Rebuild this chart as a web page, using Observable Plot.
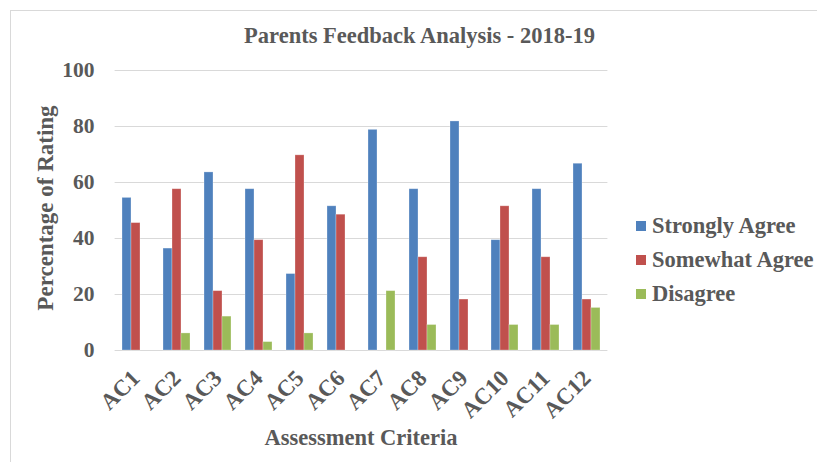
<!DOCTYPE html>
<html>
<head>
<meta charset="utf-8">
<script src="https://cdn.jsdelivr.net/npm/d3@7"></script>
<script src="https://cdn.jsdelivr.net/npm/@observablehq/plot@0.6"></script>
<style>
  html, body { margin: 0; padding: 0; background: #fff; }
  #wrap { position: relative; width: 817px; height: 462px; overflow: hidden;
          font-family: "Liberation Serif", "Times New Roman", serif; font-weight: bold; color: #595959; }
  #border { position: absolute; left: 10px; top: 10px; width: 820px; height: 470px; border: 1px solid #d9d9d9; box-sizing: border-box; }
  #title { position: absolute; left: 0; top: 23px; width: 100%; padding-left: 22px; box-sizing: border-box; text-align: center; font-size: 22.5px; }
  #ylab { position: absolute; left: 46px; top: 208px; transform: translate(-50%, -50%) rotate(-90deg); white-space: nowrap; font-size: 23px; }
  #xlab { position: absolute; left: 361px; top: 438px; transform: translate(-50%, -50%); white-space: nowrap; font-size: 22.5px; }
  #legend { position: absolute; left: 636px; top: 209px; font-size: 22.5px; }
  .li { height: 34px; line-height: 28px; white-space: nowrap; display: flex; align-items: center; }
  .sw { width: 10px; height: 10px; display: inline-block; margin-right: 6px; }
  svg { position: absolute; left: 0; top: 0; }
  g[aria-label="fx-axis tick label"] text { font-size: 23px; }
</style>
</head>
<body>
<div id="wrap">
  <div id="border"></div>
</div>
<script>
const categories = ["AC1","AC2","AC3","AC4","AC5","AC6","AC7","AC8","AC9","AC10","AC11","AC12"];
const series = ["Strongly Agree","Somewhat Agree","Disagree"];
const colors = ["#4F81BD","#C0504D","#9BBB59"];
const stronglyAgree = [54.5, 36.4, 63.6, 57.6, 27.3, 51.5, 78.8, 57.6, 81.8, 39.4, 57.6, 66.7];
const somewhatAgree = [45.5, 57.6, 21.2, 39.4, 69.7, 48.5, 0, 33.3, 18.2, 51.5, 33.3, 18.2];
const disagree      = [0, 6.1, 12.1, 3.0, 6.1, 0, 21.2, 9.1, 0, 9.1, 9.1, 15.2];
const yTicks = [0, 20, 40, 60, 80, 100];
const titleText = "Parents Feedback Analysis - 2018-19";
const xTitle = "Assessment Criteria";
const yTitle = "Percentage of Rating";

const valuesBySeries = [stronglyAgree, somewhatAgree, disagree];
const table = [];
categories.forEach((c, i) => {
  series.forEach((s, j) => table.push({cat: c, series: s, value: valuesBySeries[j][i]}));
});

const W = 817, H = 462, mL = 113, mR = 207, mT = 70, mB = 112;
const pInner = 1/3, pOuter = 1/6;
const step = (W - mL - mR) / (categories.length - pInner + 2 * pOuter);
const halfGap = step * pInner / 2 + 0.5;

const chart = Plot.plot({
  width: W,
  height: H,
  marginLeft: mL,
  marginRight: mR,
  marginTop: mT,
  marginBottom: mB,
  style: {fontFamily: "'Liberation Serif', 'Times New Roman', serif", fontWeight: "bold", fontSize: "21.5px", color: "#595959", background: "transparent"},
  fx: {domain: categories, paddingInner: pInner, paddingOuter: pOuter, label: null, axis: "bottom", tickRotate: -45, tickSize: 0, tickPadding: 24},
  x: {domain: series, axis: null, padding: 0},
  y: {domain: [0, 100], ticks: yTicks, tickSize: 0, tickPadding: 28, label: null},
  color: {domain: series, range: colors},
  marks: [
    Plot.ruleY(yTicks, {stroke: "#d9d9d9", strokeWidth: 1, insetLeft: -halfGap, insetRight: -halfGap}),
    Plot.barY(table, {fx: "cat", x: "series", y: "value", fill: "series", stroke: "#ffffff", strokeOpacity: 0.35, strokeWidth: 0.8})
  ]
});

const wrap = document.getElementById("wrap");
wrap.appendChild(chart);

const t = document.createElement("div"); t.id = "title"; t.textContent = titleText; wrap.appendChild(t);
const yl = document.createElement("div"); yl.id = "ylab"; yl.textContent = yTitle; wrap.appendChild(yl);
const xl = document.createElement("div"); xl.id = "xlab"; xl.textContent = xTitle; wrap.appendChild(xl);
const lg = document.createElement("div"); lg.id = "legend";
series.forEach((s, i) => {
  const row = document.createElement("div"); row.className = "li";
  const sw = document.createElement("span"); sw.className = "sw"; sw.style.background = colors[i];
  const tx = document.createElement("span"); tx.textContent = s;
  row.appendChild(sw); row.appendChild(tx); lg.appendChild(row);
});
wrap.appendChild(lg);
</script>
</body>
</html>
